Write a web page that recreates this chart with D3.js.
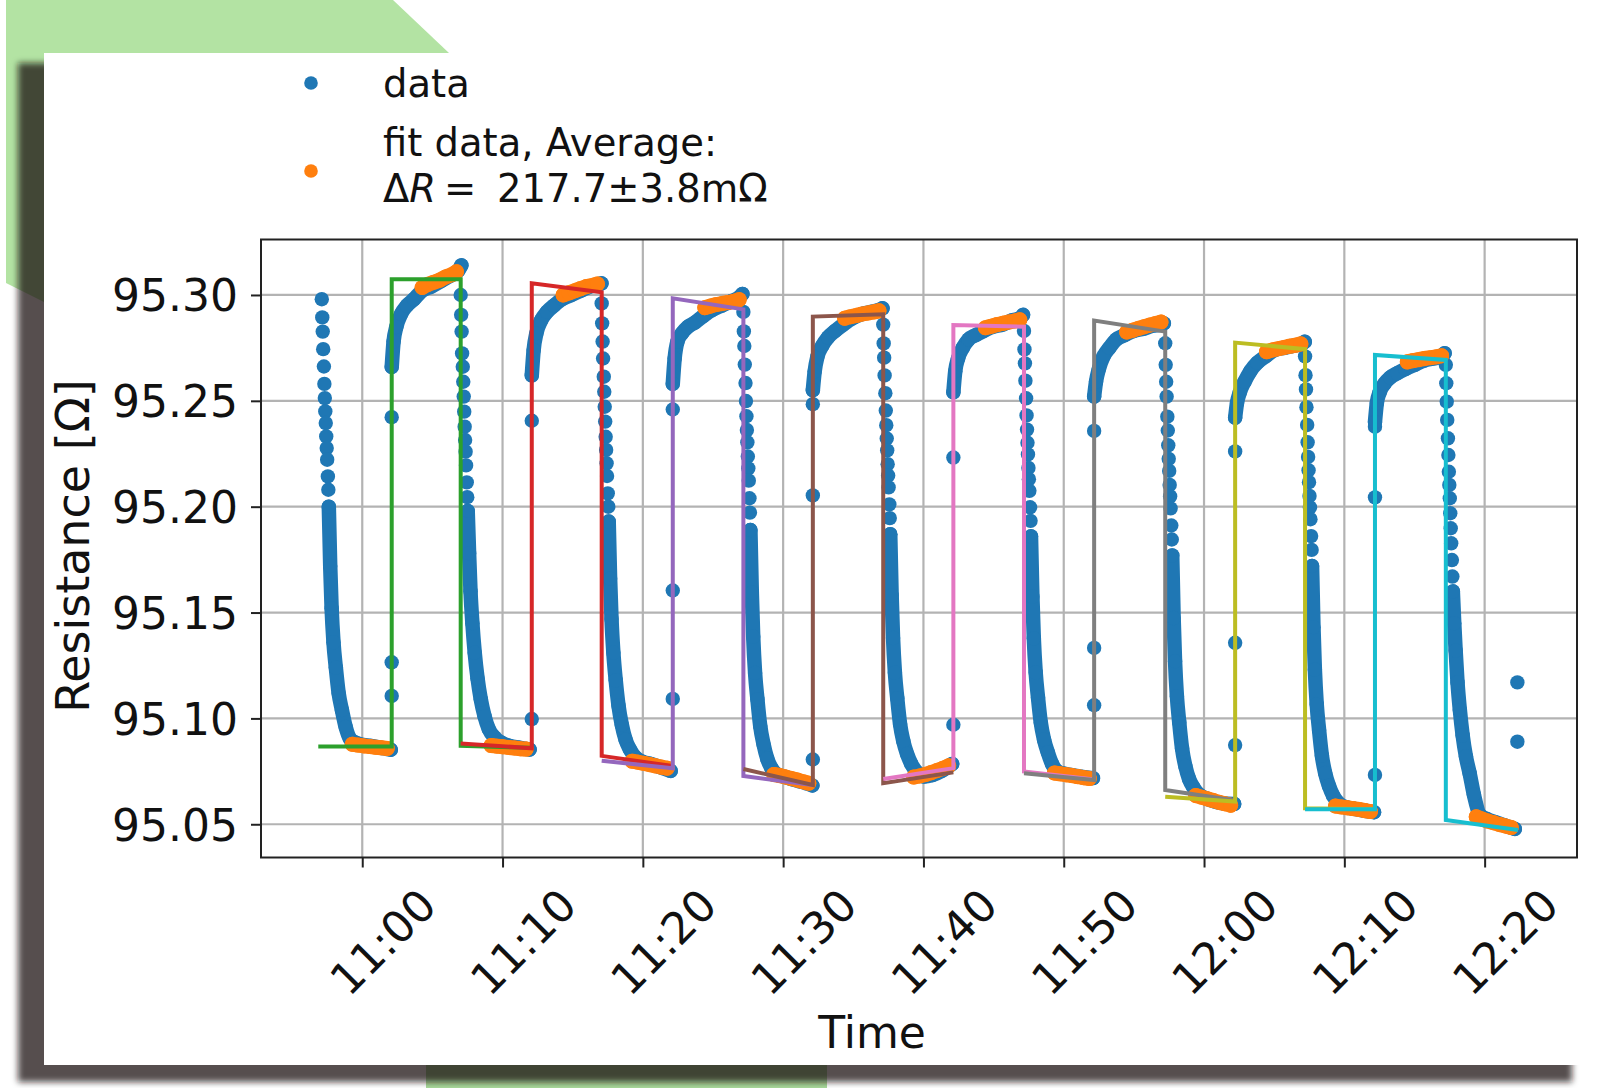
<!DOCTYPE html>
<html><head><meta charset="utf-8">
<script src="https://cdn.jsdelivr.net/npm/d3@7"></script>
<style>html,body{margin:0;padding:0;background:#fff;overflow:hidden}svg{display:block}</style>
</head><body>
<svg id="chart" width="1605" height="1088"></svg>
<script>
// ---------------- data ----------------
const xTickLabels = ["11:00","11:10","11:20","11:30","11:40","11:50","12:00","12:10","12:20"];
const yTickValues = [95.05, 95.10, 95.15, 95.20, 95.25, 95.30];
const xDomain = ["10:52:47", "12:26:35"];
const yDomain = [95.0343, 95.3262];

// step times of the heater (fall = off, rise = on)
const fallTimes = ["10:57:07","11:07:01","11:17:04","11:27:10","11:37:08","11:47:10","11:57:14","12:07:12","12:17:14"];
const riseTimes = ["11:02:06","11:12:05","11:22:08","11:32:07","11:42:08","11:52:10","12:02:13","12:12:11"];

// cooling: sparse samples right after each fall (seconds after fall)
const coolDotSec = [0,2,4,6,9,11,13,15,17,19,21,23,26,28];
const coolDotVals = [
  [95.298,95.2894,95.2827,95.2744,95.2662,95.258,95.2513,95.245,95.2395,95.2332,95.2277,95.2222,95.2143,95.208],
  [95.300,95.2906,95.2827,95.2724,95.2661,95.259,95.252,95.2449,95.2378,95.2315,95.226,95.2195,95.2115,95.2045],
  [95.296,95.2866,95.278,95.270,95.2614,95.2543,95.2472,95.2402,95.233,95.2268,95.2205,95.2145,95.2063,95.200],
  [95.292,95.2828,95.2759,95.2671,95.2584,95.2499,95.2427,95.2362,95.2304,95.2237,95.2181,95.2123,95.204,95.1972],
  [95.286,95.2771,95.2704,95.262,95.2536,95.2454,95.2385,95.2322,95.2266,95.2201,95.2147,95.2091,95.2011,95.1946],
  [95.283,95.2743,95.2677,95.2595,95.2512,95.2431,95.2364,95.2302,95.2247,95.2183,95.213,95.2075,95.1997,95.1933],
  [95.2772,95.267,95.259,95.252,95.2425,95.236,95.229,95.2226,95.2169,95.2103,95.2049,95.1992,95.1911,95.1845],
  [95.271,95.2621,95.2554,95.247,95.2386,95.2304,95.2235,95.2172,95.2116,95.2051,95.1997,95.1941,95.1861,95.1796],
  [95.267,95.2583,95.2496,95.241,95.2323,95.2244,95.2165,95.2103,95.204,95.1969,95.1898,95.1827,95.1748,95.167]
];
// cooling: dense part of each decay (seconds after fall)
const coolBandSec = [30,36,42,50,60,72,86,102,120,145,175,210,250,295];
const coolBandVals = [
  [95.200,95.172,95.152,95.136,95.124,95.112,95.104,95.096,95.0905,95.0885,95.0875,95.087,95.0862,95.0852],
  [95.198,95.178,95.160,95.145,95.131,95.119,95.109,95.101,95.095,95.091,95.0885,95.087,95.0862,95.0853],
  [95.193,95.166,95.147,95.131,95.118,95.106,95.097,95.090,95.0855,95.0815,95.0795,95.0785,95.077,95.0752],
  [95.189,95.1594,95.1386,95.1215,95.109,95.0964,95.0879,95.081,95.0765,95.0735,95.0725,95.0712,95.070,95.0683],
  [95.187,95.1581,95.138,95.1216,95.1095,95.0974,95.0892,95.0832,95.0785,95.0745,95.0725,95.0732,95.0752,95.0785],
  [95.186,95.1575,95.1378,95.1217,95.1098,95.0979,95.0899,95.0839,95.0785,95.0748,95.0738,95.0731,95.0724,95.0718],
  [95.177,95.1474,95.127,95.1104,95.0981,95.0858,95.0775,95.0714,95.0675,95.064,95.0622,95.0608,95.0598,95.0596],
  [95.172,95.1431,95.123,95.1066,95.0945,95.0824,95.0742,95.0682,95.0635,95.0598,95.058,95.0573,95.0565,95.0557],
  [95.160,95.145,95.132,95.117,95.104,95.092,95.082,95.074,95.064,95.0545,95.0525,95.051,95.0495,95.0478]
];
// heating: isolated samples at each rise
const riseDotVals = [
  [95.1106,95.1265,95.2423],
  [95.0997,95.2406],
  [95.1092,95.1604,95.2459],
  [95.0806,95.2053,95.2484],
  [95.0970,95.2232],
  [95.1062,95.1333,95.2358],
  [95.0874,95.1357,95.2261],
  [95.0733,95.2044,95.2378]
];
// heating: dense part (seconds after rise)
const heatBandSec = [0,8,20,40,65,95,130,170,210,250,285,298];
const heatBandVals = [
  [95.266,95.278,95.285,95.291,95.295,95.298,95.302,95.304,95.3065,95.309,95.3115,95.314],
  [95.262,95.274,95.282,95.288,95.292,95.295,95.298,95.300,95.302,95.304,95.305,95.3055],
  [95.258,95.270,95.278,95.282,95.285,95.287,95.290,95.293,95.295,95.297,95.299,95.3005],
  [95.255,95.264,95.271,95.276,95.280,95.283,95.286,95.289,95.291,95.292,95.293,95.2937],
  [95.254,95.264,95.270,95.275,95.279,95.281,95.283,95.285,95.286,95.288,95.289,95.2906],
  [95.252,95.259,95.265,95.271,95.275,95.279,95.281,95.283,95.284,95.2855,95.286,95.2866],
  [95.242,95.249,95.254,95.259,95.264,95.268,95.271,95.274,95.275,95.276,95.277,95.2779],
  [95.240,95.249,95.254,95.258,95.261,95.263,95.265,95.267,95.269,95.270,95.271,95.2725]
];
const lateDotTime = "12:22:20";
const lateDotVals = [95.117, 95.089];

// "fit data" points (orange)
const fitTopSec = [-165,-140,-115,-90,-65,-40,-18];   // relative to the following fall
const fitTopVals = [
  [95.3035,95.305,95.306,95.307,95.3085,95.3095,95.311],
  [95.300,95.301,95.302,95.303,95.304,95.3045,95.3052],
  [95.294,95.2948,95.2955,95.296,95.2965,95.297,95.2978],
  [95.289,95.2897,95.2903,95.291,95.2915,95.292,95.2925],
  [95.2845,95.2852,95.286,95.2866,95.2872,95.2877,95.2883],
  [95.2825,95.2833,95.2842,95.285,95.2858,95.2865,95.2872],
  [95.2732,95.274,95.2746,95.2752,95.2758,95.2763,95.2769],
  [95.2684,95.269,95.2695,95.27,95.2704,95.2708,95.2713]
];
const fitBotSec = [130,155,180,205,230,255,280];      // relative to the preceding fall
const fitBotVals = [
  [95.0878,95.0874,95.087,95.0867,95.0864,95.0861,95.0858],
  [95.0872,95.0869,95.0866,95.0863,95.086,95.0857,95.0855],
  [95.0798,95.0793,95.0788,95.0782,95.0776,95.077,95.0765],
  [95.0735,95.073,95.0723,95.0716,95.0709,95.0701,95.0694],
  [95.0723,95.0728,95.0735,95.0744,95.0754,95.0764,95.0776],
  [95.0742,95.0738,95.0734,95.073,95.0725,95.072,95.0716],
  [95.0636,95.0628,95.062,95.0612,95.0604,95.0597,95.059],
  [95.0586,95.0582,95.0578,95.0574,95.057,95.0565,95.056],
  [95.0535,95.0525,95.0515,95.0507,95.0499,95.0492,95.0485]
];

// step fits, one per heating cycle
const fitColors = ["#2ca02c","#d62728","#9467bd","#8c564b","#e377c2","#7f7f7f","#bcbd22","#17becf"];
const fitStartTimes = ["10:56:52","11:07:01","11:17:04","11:27:10","11:37:08","11:47:10","11:57:14","12:07:12"];
const fitEndTimes   = ["11:12:05","11:22:08","11:32:07","11:42:08","11:52:10","12:02:13","12:12:11","12:22:23"];
const fitPre0  = [95.0867,95.0882,95.0800,95.0761,95.0714,95.0741,95.0630,95.0571];
const fitPre1  = [95.0867,95.0859,95.0765,95.0686,95.0765,95.0709,95.0607,95.0571];
const fitTop0  = [95.3074,95.3055,95.2984,95.2898,95.2858,95.2879,95.2775,95.2717];
const fitTop1  = [95.3074,95.3013,95.2932,95.2909,95.2850,95.2827,95.2744,95.2693];
const fitPost0 = [95.0870,95.0823,95.0728,95.0694,95.0749,95.0662,95.0576,95.0520];
const fitPost1 = [95.0861,95.0775,95.0685,95.0745,95.0712,95.0612,95.0571,95.0473];

const legendLabels = ["data", "fit data, Average:", "217.7\u00b13.8m\u03a9"];
const xLabel = "Time";
const yLabel = "Resistance [\u03a9]";

// ---------------- drawing ----------------
const BLUE = "#1f77b4", ORANGE = "#ff7f0e", FONT = "DejaVu Sans";
const svg = d3.select("#chart");
const parseT = d3.timeParse("%H:%M:%S");
const parseHM = d3.timeParse("%H:%M");
const at = (hms, s) => d3.timeSecond.offset(parseT(hms), s);

// decorative background + card
const defs = svg.append("defs");
defs.append("filter").attr("id","blur").attr("x","-5%").attr("y","-5%").attr("width","110%").attr("height","110%")
  .append("feGaussianBlur").attr("stdDeviation", 3.2);
svg.append("polygon").attr("points","6,0 393,0 449,53 449,400 44,302 6,283").attr("fill","#b3e3a3");
svg.append("rect").attr("x",426).attr("y",1040).attr("width",401).attr("height",60).attr("fill","#a9d99a");
svg.append("rect").attr("x",18).attr("y",63).attr("width",1554).attr("height",1019)
  .attr("fill","rgba(24,20,20,0.74)").attr("filter","url(#blur)");
svg.append("rect").attr("x",44).attr("y",53).attr("width",1538).attr("height",1012).attr("fill","#fff");

// scales
const L = 261, R = 1577, T = 239.5, B = 857.5;
const x = d3.scaleTime().domain(xDomain.map(parseT)).range([L, R]);
const y = d3.scaleLinear().domain(yDomain).range([B, T]);
const xTicks = xTickLabels.map(parseHM);

// grid
const grid = svg.append("g").attr("stroke","#b3b3b3").attr("stroke-width",2.2);
grid.selectAll("line.gx").data(xTicks).join("line").attr("class","gx")
  .attr("x1",d=>x(d)).attr("x2",d=>x(d)).attr("y1",T).attr("y2",B);
grid.selectAll("line.gy").data(yTickValues).join("line").attr("class","gy")
  .attr("x1",L).attr("x2",R).attr("y1",d=>y(d)).attr("y2",d=>y(d));

// assemble data
const line = d3.line().x(d=>x(d.t)).y(d=>y(d.v)).curve(d3.curveMonotoneX);
const bluePts = [], blueBands = [];
fallTimes.forEach((f,k)=>{
  coolDotSec.forEach((s,i)=>bluePts.push({t:at(f,s), v:coolDotVals[k][i]}));
  const band = coolBandSec.map((s,i)=>({t:at(f,s), v:coolBandVals[k][i]}));
  blueBands.push(band); bluePts.push(...band);
});
riseTimes.forEach((r,k)=>{
  riseDotVals[k].forEach(v=>bluePts.push({t:at(r,0), v}));
  const band = heatBandSec.map((s,i)=>({t:at(r,s), v:heatBandVals[k][i]}));
  blueBands.push(band); bluePts.push(...band);
});
lateDotVals.forEach(v=>bluePts.push({t:at(lateDotTime,0), v}));

const orangeBands = [];
fitTopVals.forEach((vals,k)=>orangeBands.push(fitTopSec.map((s,i)=>({t:at(fallTimes[k+1],s), v:vals[i]}))));
fitBotVals.forEach((vals,k)=>orangeBands.push(fitBotSec.map((s,i)=>({t:at(fallTimes[k],s), v:vals[i]}))));

// blue data
const gData = svg.append("g");
gData.selectAll("path.bb").data(blueBands).join("path").attr("class","bb")
  .attr("d", line).attr("fill","none").attr("stroke",BLUE).attr("stroke-width",14.5)
  .attr("stroke-linecap","round").attr("stroke-linejoin","round");
gData.selectAll("circle.bd").data(bluePts).join("circle").attr("class","bd")
  .attr("cx",d=>x(d.t)).attr("cy",d=>y(d.v)).attr("r",7.2).attr("fill",BLUE);

// orange fit data
const gFit = svg.append("g");
gFit.selectAll("path.ob").data(orangeBands).join("path").attr("class","ob")
  .attr("d", line).attr("fill","none").attr("stroke",ORANGE).attr("stroke-width",15)
  .attr("stroke-linecap","round").attr("stroke-linejoin","round");
gFit.selectAll("circle.od").data(orangeBands.flat()).join("circle").attr("class","od")
  .attr("cx",d=>x(d.t)).attr("cy",d=>y(d.v)).attr("r",7.5).attr("fill",ORANGE);

// step-fit lines
const fitLines = fitColors.map((c,k)=>({color:c, pts:[
  {t:parseT(fitStartTimes[k]), v:fitPre0[k]},
  {t:parseT(riseTimes[k]), v:fitPre1[k]},
  {t:parseT(riseTimes[k]), v:fitTop0[k]},
  {t:parseT(fallTimes[k+1]), v:fitTop1[k]},
  {t:parseT(fallTimes[k+1]), v:fitPost0[k]},
  {t:parseT(fitEndTimes[k]), v:fitPost1[k]}
]}));
const lineL = d3.line().x(d=>x(d.t)).y(d=>y(d.v));
svg.append("g").selectAll("path").data(fitLines).join("path")
  .attr("d",d=>lineL(d.pts)).attr("fill","none").attr("stroke",d=>d.color)
  .attr("stroke-width",4).attr("stroke-linejoin","miter");

// frame
svg.append("rect").attr("x",L).attr("y",T).attr("width",R-L).attr("height",B-T)
  .attr("fill","none").attr("stroke","#222").attr("stroke-width",2);

// axes
const xAxis = svg.append("g").attr("transform",`translate(0,${B})`)
  .call(d3.axisBottom(x).tickValues(xTicks).tickFormat(d3.timeFormat("%H:%M")).tickSize(10));
xAxis.select(".domain").remove();
xAxis.selectAll(".tick line").attr("stroke","#222").attr("stroke-width",2);
xAxis.selectAll(".tick text").attr("font-family",FONT).attr("font-size",44).attr("fill","#111")
  .attr("text-anchor","end").attr("x",0).attr("y",0).attr("dy",0)
  .attr("transform","translate(76,50.5) rotate(-45)");

const yAxis = svg.append("g").attr("transform",`translate(${L},0)`)
  .call(d3.axisLeft(y).tickValues(yTickValues).tickFormat(d3.format(".2f")).tickSize(10).tickPadding(13));
yAxis.select(".domain").remove();
yAxis.selectAll(".tick line").attr("stroke","#222").attr("stroke-width",2);
yAxis.selectAll(".tick text").attr("font-family",FONT).attr("font-size",44).attr("fill","#111").attr("dy","0.36em");

// axis labels
svg.append("text").attr("x",872).attr("y",1048).attr("text-anchor","middle")
  .attr("font-family",FONT).attr("font-size",44).attr("fill","#111").text(xLabel);
svg.append("text").attr("transform","translate(89,546) rotate(-90)").attr("text-anchor","middle")
  .attr("font-family",FONT).attr("font-size",46).attr("fill","#111").text(yLabel);

// legend
const lg = svg.append("g").attr("font-family",FONT).attr("font-size",38.5).attr("fill","#111");
lg.append("circle").attr("cx",311).attr("cy",83).attr("r",6.8).attr("fill",BLUE);
lg.append("circle").attr("cx",311).attr("cy",171).attr("r",6.8).attr("fill",ORANGE);
lg.append("text").attr("x",383).attr("y",97).text(legendLabels[0]);
lg.append("text").attr("x",383).attr("y",156).text(legendLabels[1]);
const t3 = lg.append("text").attr("y",202);
t3.append("tspan").attr("x",383).text("\u0394");
t3.append("tspan").attr("font-style","italic").text("R");
t3.append("tspan").attr("x",444).text("=");
t3.append("tspan").attr("x",497).text(legendLabels[2]);
</script>
</body></html>
